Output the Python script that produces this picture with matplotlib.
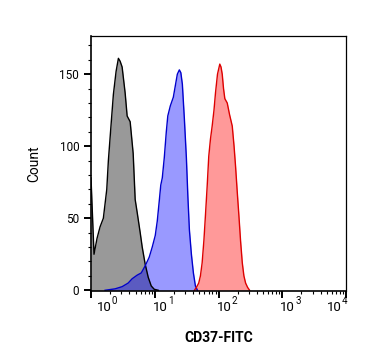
import matplotlib
matplotlib.use("Agg")
import matplotlib.pyplot as plt
from matplotlib.ticker import LogLocator, MultipleLocator, FixedLocator, NullFormatter

plt.rcParams['font.family'] = ['Roboto', 'DejaVu Sans']

# Gray (unstained / isotype) histogram
gray_x = [1.00, 1.115, 1.243, 1.386, 1.562, 1.767, 1.873, 2.065, 2.245, 2.476, 2.691,
          2.862, 3.077, 3.431, 3.689, 4.114, 4.586, 4.931, 5.302, 5.911, 6.357, 7.087,
          7.901, 8.809, 9.820, 11.35]
gray_y = [78, 25, 36, 44, 50, 70, 90, 115, 136, 152, 161,
          159, 155, 137, 121, 117, 95, 63, 54, 40, 30, 18,
          9, 3, 0.7, 0]

# Blue histogram
blue_x = [1.662, 2.387, 3.077, 3.825, 4.422, 5.302, 6.131, 7.087, 8.193, 9.134, 10.18,
          10.95, 11.77, 12.43, 13.13, 14.11, 15.18, 16.02, 17.55, 19.56, 21.03, 22.61,
          24.31, 25.67, 27.11, 29.15, 31.34, 33.09, 34.94, 37.57, 40.40, 43.43, 46.69]
blue_y = [0, 1, 2.5, 5, 8, 10.5, 12, 17, 23, 30, 38,
          48, 62, 73, 78, 92, 110, 121, 128, 134, 142, 150,
          153, 151, 143, 119, 92, 65, 42, 25, 12, 3, 0]

# Red histogram (CD37-FITC)
red_x = [41.88, 45.03, 48.95, 52.06, 55.38, 59.11, 62.41, 66.38, 70.35, 74.82, 79.57,
         84.95, 89.72, 96.45, 104.8, 109.5, 114.4, 119.9, 125.7, 137.1, 149.0, 164.3,
         175.4, 185.2, 197.0, 208.8, 222.1, 236.2, 250.3, 266.2, 286.2, 307.7]
red_y = [0, 2, 5, 10, 19, 35, 52, 72, 93, 105, 114,
         125, 137, 150, 157, 155, 150, 140, 133, 130, 122, 114,
         100, 86, 68, 52, 34, 19, 10, 5, 2, 0]

x_ticks = [1, 10, 100, 1000, 10000]
x_tick_base = ['10', '10', '10', '10', '10']
x_tick_exp = ['0', '1', '2', '3', '4']
y_ticks = [0, 50, 100, 150]

fig = plt.figure(figsize=(3.67, 3.64), dpi=100)
ax = fig.add_axes([91/367, 73/364, 255/367, 255/364])

ax.fill_between(gray_x, gray_y, 0, color='black', alpha=0.4, lw=0)
ax.fill_between(blue_x, blue_y, 0, color='blue', alpha=0.4, lw=0)
ax.fill_between(red_x, red_y, 0, color='red', alpha=0.4, lw=0)
ax.plot(gray_x, gray_y, color='black', lw=1.0)
ax.plot(blue_x, blue_y, color='#0000cc', lw=1.0)
ax.plot(red_x, red_y, color='#dd0000', lw=1.0)

ax.set_xscale('log')
ax.set_xlim(1, 10000)
ax.set_ylim(-0.5, 176.5)

ax.xaxis.set_major_locator(FixedLocator(x_ticks))
ax.xaxis.set_major_formatter(NullFormatter())
ax.xaxis.set_minor_locator(LogLocator(base=10, subs=range(2, 10)))
ax.xaxis.set_minor_formatter(NullFormatter())
ax.yaxis.set_major_locator(FixedLocator(y_ticks))
ax.yaxis.set_minor_locator(MultipleLocator(10))

ax.tick_params(axis='both', which='major', direction='out', length=5, width=1.4, color='black')
ax.tick_params(axis='both', which='minor', direction='out', length=2.5, width=0.8, color='black')
ax.tick_params(axis='y', which='major', labelsize=8.5, pad=3.5)

for s in ['left', 'bottom']:
    ax.spines[s].set_linewidth(1.2)
for s in ['top', 'right']:
    ax.spines[s].set_linewidth(0.9)

# x tick labels as base + superscript, positioned like the reference
base_off = [6, -2, -2, -2, -19]
for xt, b, e, off in zip(x_ticks, x_tick_base, x_tick_exp, base_off):
    ax.annotate(b, xy=(xt, 0), xycoords=('data', 'axes fraction'),
                xytext=(off, -20), textcoords='offset pixels',
                ha='left', va='baseline', fontsize=9.5, annotation_clip=False)
    ax.annotate(e, xy=(xt, 0), xycoords=('data', 'axes fraction'),
                xytext=(off + 15, -13), textcoords='offset pixels',
                ha='left', va='baseline', fontsize=7, annotation_clip=False)

fig.text(218.5/367, 1 - 338.5/364, 'CD37-FITC', fontsize=10, fontweight='bold',
         ha='center', va='center')
fig.text(34/367, 1 - 163.5/364, 'Count', fontsize=10, rotation=90,
         ha='center', va='center')

fig.savefig('out.png', dpi=100)
